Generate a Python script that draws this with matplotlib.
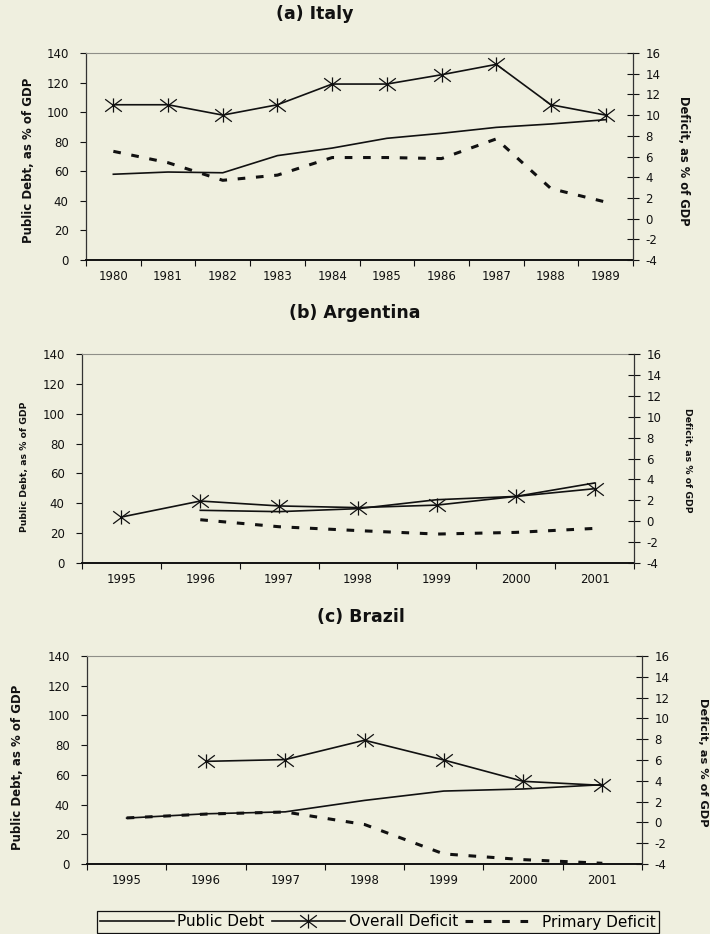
import matplotlib
matplotlib.use('Agg')
import matplotlib.pyplot as plt
import numpy as np
from matplotlib.path import Path
from matplotlib.lines import Line2D

plt.rcParams['font.family'] = ['DejaVu Sans']
plt.rcParams['axes.unicode_minus'] = False

# ---------------- data ----------------
italy_years = [1980, 1981, 1982, 1983, 1984, 1985, 1986, 1987, 1988, 1989]
italy_debt = [58, 59.5, 59, 70.6, 75.7, 82.3, 85.7, 89.7, 92, 94.9]
italy_overall = [11, 11, 10, 11, 13, 13, 13.9, 14.9, 11, 10]
italy_primary = [6.5, 5.4, 3.7, 4.2, 5.9, 5.9, 5.8, 7.7, 2.9, 1.6]

arg_years = [1995, 1996, 1997, 1998, 1999, 2000, 2001]
arg_debt = [np.nan, 35.3, 34.4, 36.4, 42.4, 44.6, 53.6]
arg_overall = [0.4, 1.93, 1.46, 1.3, 1.54, 2.37, 3.11]
arg_primary = [np.nan, 0.14, -0.53, -0.9, -1.23, -1.07, -0.69]

bra_years = [1995, 1996, 1997, 1998, 1999, 2000, 2001]
bra_debt = [30.9, 33.8, 35.1, 42.8, 49.1, 50.5, 53.4]
bra_overall = [np.nan, 5.87, 6.04, 7.9, 6.0, 3.95, 3.56]
bra_primary = [0.43, 0.8, 1.0, -0.2, -3.03, -3.58, -3.93]

left_ticks = [0, 20, 40, 60, 80, 100, 120, 140]
right_ticks = [-4, -2, 0, 2, 4, 6, 8, 10, 12, 14, 16]
legend_labels = ['Public Debt', 'Overall Deficit', 'Primary Deficit']
left_label = 'Public Debt, as % of GDP'
right_label = 'Deficit, as % of GDP'

# ---------------- style ----------------
BG = '#efefdf'
INK = '#111111'
W, H = 710, 934

star = Path([(-1, -0.75), (1, 0.75), (-1, 0.75), (1, -0.75), (0, -0.85), (0, 0.85)],
            [Path.MOVETO, Path.LINETO, Path.MOVETO, Path.LINETO, Path.MOVETO, Path.LINETO])

fig = plt.figure(figsize=(W / 100, H / 100), dpi=100, facecolor=BG)


def px_rect(l, r, top, bottom):
    return [l / W, 1 - bottom / H, (r - l) / W, (bottom - top) / H]


def panel(rect, years, debt, overall, primary, title, tpos, lpos, rpos, lfs):
    ax = fig.add_axes(rect)
    ax.set_facecolor(BG)
    ax.set_xlim(years[0] - 0.5, years[-1] + 0.5)
    ax.set_ylim(0, 140)
    ax.set_yticks(left_ticks)
    ax.set_xticks(years)
    ax.set_xticks(np.arange(years[0] - 0.5, years[-1] + 0.51, 1), minor=True)
    ax.tick_params(axis='x', which='major', length=0, pad=7, labelsize=8.5, colors=INK)
    ax.tick_params(axis='x', which='minor', length=4, direction='out', width=0.8, color=INK)
    ax.tick_params(axis='y', length=4, direction='out', pad=8.5, labelsize=8.5, width=0.8, colors=INK)

    ax2 = ax.twinx()
    ax2.set_ylim(-4, 16)
    ax2.set_yticks(right_ticks)
    ax2.tick_params(axis='y', direction='inout', length=8, pad=5, labelsize=8.5, width=0.8, colors=INK)

    for a in (ax, ax2):
        for s in a.spines.values():
            s.set_visible(False)
    ax.spines['top'].set_visible(True)
    ax.spines['top'].set_color('#8f8f88')
    ax.spines['top'].set_linewidth(0.8)
    ax.spines['left'].set_visible(True)
    ax.spines['left'].set_color('#333333')
    ax.spines['left'].set_linewidth(0.9)
    ax.spines['bottom'].set_visible(True)
    ax.spines['bottom'].set_color(INK)
    ax.spines['bottom'].set_linewidth(1.4)
    ax2.spines['right'].set_visible(True)
    ax2.spines['right'].set_color('#333333')
    ax2.spines['right'].set_linewidth(0.9)

    ax.plot(years, debt, color=INK, lw=1.2, zorder=3)
    ax2.plot(years, overall, color=INK, lw=1.2, marker=star, ms=12,
             mfc='none', mec=INK, mew=0.9, zorder=3)
    ax2.plot(years, primary, color=INK, lw=2.2, dashes=(2.5, 3.5), zorder=3)

    fig.text(tpos[0] / W, 1 - tpos[1] / H, title, ha='center', va='center',
             fontsize=12.5, fontweight='bold', color=INK)
    fig.text(lpos[0] / W, 1 - lpos[1] / H, left_label, rotation=90, ha='center', va='center',
             fontsize=lfs[0], fontweight='bold', color=INK)
    fig.text(rpos[0] / W, 1 - rpos[1] / H, right_label, rotation=270, ha='center', va='center',
             fontsize=lfs[1], fontweight='bold', color=INK)
    return ax, ax2


panel(px_rect(86, 633, 53, 260), italy_years, italy_debt, italy_overall, italy_primary,
      '(a) Italy', (315, 14), (28, 160), (684, 161), (8.5, 8.3))
panel(px_rect(82, 634, 354, 563), arg_years, arg_debt, arg_overall, arg_primary,
      '(b) Argentina', (355, 313), (25, 467), (688, 460), (6.7, 6.7))
panel(px_rect(87, 642, 656, 864), bra_years, bra_debt, bra_overall, bra_primary,
      '(c) Brazil', (361, 617), (18, 767), (703, 762), (8.5, 8.2))

handles = [
    Line2D([], [], color=INK, lw=1.2),
    Line2D([], [], color=INK, lw=1.2, marker=star, ms=12, mfc='none', mec=INK, mew=0.9),
    Line2D([], [], color=INK, lw=2.2, dashes=(2.5, 3.5)),
]
leg = fig.legend(handles, legend_labels, loc='center', bbox_to_anchor=(378 / W, 1 - 922 / H),
                 ncol=3, frameon=True, fontsize=11, handlelength=4.8, handletextpad=0.25,
                 columnspacing=0.45, borderpad=0.2, fancybox=False, edgecolor=INK,
                 facecolor=BG, framealpha=1)
leg.get_frame().set_linewidth(0.9)

fig.savefig('out.png', dpi=100, facecolor=BG)
